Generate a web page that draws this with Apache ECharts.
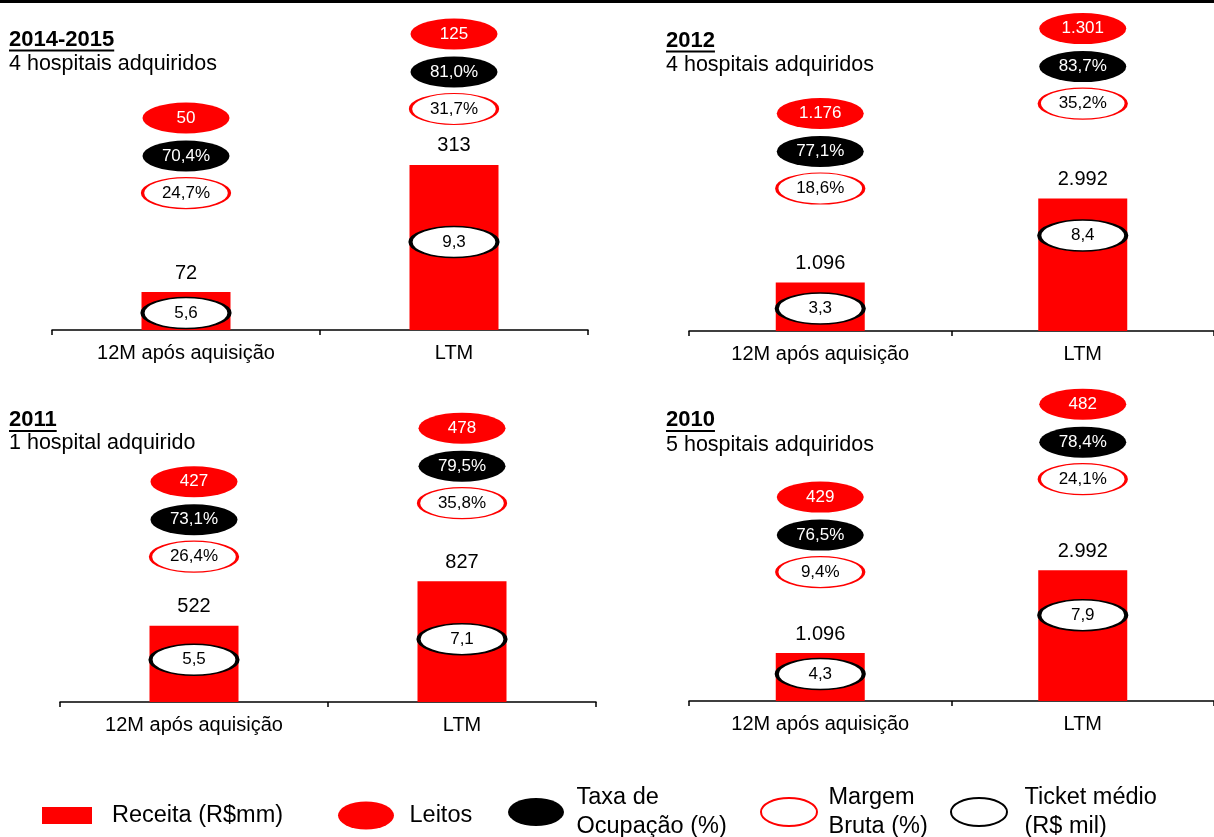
<!DOCTYPE html>
<html>
<head>
<meta charset="utf-8">
<script src="https://cdn.jsdelivr.net/npm/echarts@6/dist/echarts.min.js"></script>
<style>
  html, body { margin: 0; padding: 0; background: #fff; }
  #chart { width: 1214px; height: 837px; }
</style>
</head>
<body>
<div id="chart"></div>
<script>
// data, one row per panel: [12M após aquisição, LTM]
const categories = ['12M após aquisição', 'LTM']
const panelTitles = ['2014-2015', '2012', '2011', '2010']
const panelSubtitles = ['4 hospitais adquiridos', '4 hospitais adquiridos', '1 hospital adquirido', '5 hospitais adquiridos']
const receita = [[72, 313], [1096, 2992], [522, 827], [1096, 2992]]
const leitos = [[50, 125], [1176, 1301], [427, 478], [429, 482]]
const taxaOcupacao = [[70.4, 81.0], [77.1, 83.7], [73.1, 79.5], [76.5, 78.4]]
const margemBruta = [[24.7, 31.7], [18.6, 35.2], [26.4, 35.8], [9.4, 24.1]]
const ticketMedio = [[5.6, 9.3], [3.3, 8.4], [5.5, 7.1], [4.3, 7.9]]

const names = {
  receita: 'Receita (R$mm)',
  leitos: 'Leitos',
  taxa: 'Taxa de\nOcupação (%)',
  margem: 'Margem\nBruta (%)',
  ticket: 'Ticket médio\n(R$ mil)',
}

// layout
const FONT = '"Liberation Sans", Arial, sans-serif'
const RED = '#ff0000'
const panels = [
  { left: 52, top: 30, width: 536, max: 569, tx: 9, ty: 39.5, sy: 64.5 },
  { left: 689, top: 31, width: 534, max: 6780, tx: 666, ty: 40.5, sy: 65.5 },
  { left: 60, top: 402, width: 536, max: 2053, tx: 9, ty: 420, sy: 443.5 },
  { left: 689, top: 401, width: 534, max: 6860, tx: 666, ty: 420, sy: 445 },
]
// px from bar top to the "Margem" bubble, and down to the "Ticket" bubble
const stackGap = [[99, 56], [94, 95], [69, 78], [81, 91]]
const ticketDrop = [[21, 77], [26, 37], [34, 58], [21, 45]]
const ROW = 37

const ellipse = 'path://M0,50A100,50,0,1,1,200,50A100,50,0,1,1,0,50Z'
const legendEllipse = 'path://M0,14A28,14,0,1,1,56,14A28,14,0,1,1,0,14Z'

const fmtInt = v => String(v).replace(/\B(?=(\d{3})+(?!\d))/g, '.')
const fmtDec = v => v.toFixed(1).replace('.', ',')
const fmtPct = v => fmtDec(v) + '%'

function textWidth(text, font) {
  const ctx = document.createElement('canvas').getContext('2d')
  ctx.font = font
  return ctx.measureText(text).width
}

function bubble(p, name, values, offset, style, textColor, fmt) {
  return {
    type: 'scatter',
    name,
    xAxisIndex: p,
    yAxisIndex: p,
    symbol: ellipse,
    symbolSize: [87, 31],
    itemStyle: Object.assign({ opacity: 1 }, style),
    silent: true,
    z: 5,
    label: {
      show: true,
      position: 'inside',
      color: textColor,
      fontSize: 17,
      fontFamily: FONT,
      formatter: d => fmt(d.data.raw),
    },
    data: values.map((v, i) => ({
      value: [i, receita[p][i]],
      symbolOffset: [0, offset(i)],
      raw: v,
    })),
  }
}

const grid = []
const xAxis = []
const yAxis = []
const series = []
const graphic = [
  { type: 'rect', shape: { x: 0, y: 0, width: 1214, height: 3 }, style: { fill: '#000' } },
]

panels.forEach((pn, p) => {
  grid.push({ left: pn.left, top: pn.top, width: pn.width, height: 300 })
  xAxis.push({
    type: 'category',
    gridIndex: p,
    data: categories,
    axisLine: { lineStyle: { color: '#000', width: 1.5 } },
    axisTick: { show: true, length: 5, lineStyle: { color: '#000', width: 1.5 } },
    axisLabel: { color: '#000', fontSize: 20, fontFamily: FONT, margin: 13, interval: 0 },
  })
  yAxis.push({ type: 'value', gridIndex: p, min: 0, max: pn.max, show: false })

  series.push({
    type: 'bar',
    name: names.receita,
    xAxisIndex: p,
    yAxisIndex: p,
    data: receita[p],
    barWidth: 89,
    silent: true,
    itemStyle: { color: RED },
    label: {
      show: true,
      position: 'top',
      distance: 9,
      color: '#000',
      fontSize: 20,
      fontFamily: FONT,
      formatter: d => fmtInt(d.value),
    },
  })
  const gap = stackGap[p]
  series.push(bubble(p, names.leitos, leitos[p], i => -(gap[i] + 2 * ROW + 1),
    { color: RED }, '#fff', fmtInt))
  series.push(bubble(p, names.taxa, taxaOcupacao[p], i => -(gap[i] + ROW),
    { color: '#000' }, '#fff', fmtPct))
  series.push(bubble(p, names.margem, margemBruta[p], i => -gap[i],
    { color: '#fff', borderColor: RED, borderWidth: 2 }, '#000', fmtPct))
  series.push(bubble(p, names.ticket, ticketMedio[p], i => ticketDrop[p][i],
    { color: '#fff', borderColor: '#000', borderWidth: 2.5 }, '#000', fmtDec))

  // panel heading, underlined year
  const tFont = 'bold 22px ' + FONT
  const w = textWidth(panelTitles[p], tFont)
  graphic.push({
    type: 'text', x: pn.tx, y: pn.ty,
    style: { text: panelTitles[p], font: tFont, fill: '#000', verticalAlign: 'middle' },
  })
  graphic.push({
    type: 'line',
    shape: { x1: pn.tx, y1: pn.ty + 11, x2: pn.tx + w, y2: pn.ty + 11 },
    style: { stroke: '#000', lineWidth: 2 },
  })
  graphic.push({
    type: 'text', x: pn.tx, y: pn.sy,
    style: { text: panelSubtitles[p], font: '21.5px ' + FONT, fill: '#000', verticalAlign: 'middle' },
  })
})

const legendText = { color: '#000', fontSize: 23.5, fontFamily: FONT, lineHeight: 29 }
function legendItem(name, left, top, icon, w, h, itemStyle, padLeft) {
  return {
    data: [{ name, icon }],
    left,
    top,
    padding: 0,
    itemWidth: w,
    itemHeight: h,
    selectedMode: false,
    itemStyle: Object.assign({ opacity: 1 }, itemStyle),
    textStyle: Object.assign({ padding: [0, 0, 8, padLeft] }, legendText),
  }
}

const legend = [
  legendItem(names.receita, 42, 797, 'rect', 50, 17, { color: RED }, 15),
  legendItem(names.leitos, 338, 797, legendEllipse, 57, 28, { color: RED }, 10),
  legendItem(names.taxa, 508, 779, legendEllipse, 57, 28, { color: '#000' }, 7),
  legendItem(names.margem, 760, 779, legendEllipse, 57, 28,
    { color: '#fff', borderColor: RED, borderWidth: 2 }, 6),
  legendItem(names.ticket, 950, 779, legendEllipse, 57, 28,
    { color: '#fff', borderColor: '#000', borderWidth: 2 }, 12),
]

const chart = echarts.init(document.getElementById('chart'))
chart.setOption({
  animation: false,
  textStyle: { fontFamily: FONT },
  grid,
  xAxis,
  yAxis,
  legend,
  graphic,
  series,
})
</script>
</body>
</html>
